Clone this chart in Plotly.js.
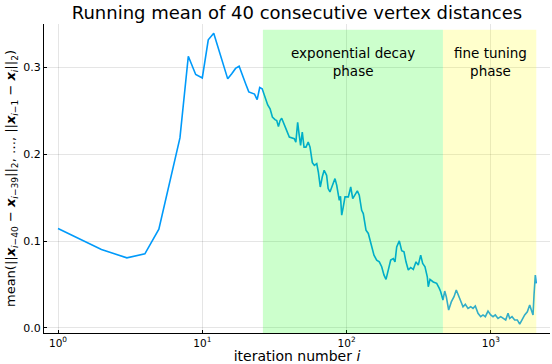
<!DOCTYPE html>
<html>
<head>
<meta charset="utf-8">
<script src="https://cdn.plot.ly/plotly-3.0.1.min.js"></script>
<style>
  html, body { margin: 0; padding: 0; background: #fff; }
  #chart { width: 552px; height: 364px; }
</style>
</head>
<body>
<div id="chart"></div>
<script>
// iteration numbers (log axis) and running mean values
const iters = [
  1, 2, 3, 4, 5, 6, 7, 8, 9, 10, 11, 12, 13, 14, 15, 16, 17, 18, 19, 20,
  21, 22, 23, 24, 25, 26, 27.2, 28.4, 29.5, 30.6, 31.9, 32.8, 33.7, 34.6, 35.5, 37.0,
  38.4, 40.1, 41.6, 43.4, 44.5, 45.8, 46.8, 48.0, 49.3, 50.7, 52.3, 54.2, 55.8, 57.9,
  59.8, 62.1, 63.7, 65.7, 67.8, 69.9, 72.7, 74.5, 76.7, 79.6, 83.1, 85.4, 87.7, 89.0,
  90.7, 92.5, 94.5, 97.5, 102.8, 106.8, 110.3, 114.4, 118.7, 122.4, 127.2, 130.5, 136.3, 141.4,
  149.3, 154.8, 161.6, 168.5, 175.1, 181.7, 187.6, 194.5, 202.1, 210.7, 216.5, 222.4, 231.9, 240.9,
  249.9, 258.0, 267.6, 278.1, 289.8, 302.7, 313.9, 326.2, 336.7, 349.4, 362.4, 368.2, 378.4, 398.7,
  421.1, 439.0, 448.8, 465.6, 478.5, 490.8, 509.8, 531.6, 555.1, 575.7, 598.3, 617.6, 640.9, 664.8,
  694.1, 724.5, 751.7, 779.7, 814.2, 849.9, 881.8, 914.7, 955.0, 996.8, 1034.6, 1072.8, 1120.5, 1169.3,
  1213.5, 1266.4, 1314.4, 1350.0, 1400.8, 1462.1, 1524.4, 1583.6, 1643.3, 1715.1, 1788.3, 1857.7, 1906.2, 1958.9,
  1990.0, 2031.3, 2063.0
];
const meanDist = [
  0.1146, 0.0904, 0.0808, 0.0854, 0.1138, 0.172, 0.219, 0.313, 0.292, 0.288, 0.332, 0.3395, 0.321, 0.304, 0.287, 0.293, 0.299, 0.3015, 0.292, 0.281,
  0.272, 0.2705, 0.2695, 0.263, 0.277, 0.2755, 0.266, 0.257, 0.2525, 0.243, 0.240, 0.239, 0.232, 0.239, 0.2417, 0.2353,
  0.2276, 0.220, 0.2187, 0.218, 0.214, 0.237, 0.2238, 0.2103, 0.2256, 0.2084, 0.2084, 0.2141, 0.2084, 0.1905,
  0.1874, 0.1893, 0.1797, 0.1624, 0.1739, 0.1816, 0.1759, 0.1606, 0.1567, 0.1644, 0.1721, 0.1644, 0.1509, 0.1471,
  0.1517, 0.130, 0.138, 0.151, 0.151, 0.1624, 0.149, 0.153, 0.158, 0.153, 0.1356, 0.1318, 0.1126, 0.1089,
  0.0954, 0.0839, 0.0782, 0.0762, 0.0705, 0.0609, 0.056, 0.0667, 0.0782, 0.080, 0.0762, 0.0934, 0.1003, 0.0889,
  0.0877, 0.0762, 0.0667, 0.0697, 0.0674, 0.0762, 0.0724, 0.0839, 0.0743, 0.0705, 0.059, 0.0475, 0.056, 0.053,
  0.0514, 0.0456, 0.0417, 0.0322, 0.0425, 0.036, 0.0207, 0.030, 0.036, 0.0437, 0.036, 0.030, 0.0245, 0.0272,
  0.0226, 0.0245, 0.0226, 0.0253, 0.0169, 0.013, 0.015, 0.013, 0.0195, 0.015, 0.013, 0.015, 0.011, 0.013,
  0.011, 0.0092, 0.0169, 0.011, 0.013, 0.0092, 0.0092, 0.0043, 0.0092, 0.015, 0.0187, 0.0264, 0.0207, 0.015,
  0.038, 0.061, 0.0514
];

// shaded phases
const phaseNames = ['exponential decay<br>phase', 'fine tuning<br>phase'];
const phaseStart = [26.3, 465];
const phaseEnd = [465, 2063];
const phaseColors = ['rgba(0,255,0,0.2)', 'rgba(255,255,0,0.2)'];
const labelAt = [110, 1000];

const yBottom = -0.0058, yTop = 0.3502, shadeTop = 0.3437;

const trace = {
    x: iters,
    y: meanDist,
    type: 'scatter',
    mode: 'lines',
    line: { color: '#009AFA', width: 1.6 },
    hoverinfo: 'x+y',
    showlegend: false
};

// shapes take raw values on the log axis
const shapes = phaseStart.map((s, k) => ({
    type: 'rect',
    xref: 'x', yref: 'y',
    x0: s, x1: phaseEnd[k],
    y0: yBottom, y1: shadeTop,
    fillcolor: phaseColors[k],
    line: { width: 0 },
    layer: 'above'
}));

const annotations = phaseNames.map((t, k) => ({
    text: t,
    xref: 'x', yref: 'y',
    x: Math.log10(labelAt[k]), y: 0.307,
    showarrow: false,
    font: { size: 13.5 },
    align: 'center'
}));

const gridCol = 'rgba(0,0,0,0.1)';

const layout = {
    width: 552, height: 364,
    margin: { l: 44, r: 2, t: 24, b: 31 },
    paper_bgcolor: '#fff', plot_bgcolor: '#fff',
    font: { family: 'DejaVu Sans', size: 11, color: '#000' },
    title: {
        text: 'Running mean of 40 consecutive vertex distances',
        font: { size: 18 },
        x: 0.538, xanchor: 'center', y: 0.966, yanchor: 'middle'
    },
    xaxis: {
        type: 'log',
        range: [-0.097, 3.4096],
        tickvals: [1, 10, 100, 1000],
        ticktext: ['10<sup>0</sup>', '10<sup>1</sup>', '10<sup>2</sup>', '10<sup>3</sup>'],
        tickfont: { size: 10.5 },
        showgrid: true, gridcolor: gridCol, gridwidth: 1,
        showline: true, linecolor: '#000', linewidth: 1.3,
        ticks: 'inside', ticklen: 3, tickcolor: '#000',
        zeroline: false,
        title: { text: 'iteration number <i>i</i>', font: { size: 14 }, standoff: 7 }
    },
    yaxis: {
        range: [yBottom, yTop],
        tickvals: [0, 0.1, 0.2, 0.3],
        ticktext: ['0.0', '0.1', '0.2', '0.3'],
        showgrid: true, gridcolor: gridCol, gridwidth: 1,
        showline: true, linecolor: '#000', linewidth: 1.3,
        ticks: 'inside', ticklen: 3, tickcolor: '#000',
        zeroline: false,
        title: {
            text: 'mean(||<b><i>x</i></b><sub><i>i</i>−40</sub> − <b><i>x</i></b><sub><i>i</i>−39</sub>||<sub>2</sub>, …, ||<b><i>x</i></b><sub><i>i</i>−1</sub> − <b><i>x</i></b><sub><i>i</i></sub>||<sub>2</sub>)',
            font: { size: 13 }, standoff: 4
        }
    },
    shapes: shapes,
    annotations: annotations
};

Plotly.newPlot('chart', [trace], layout, { displayModeBar: false, responsive: false });
</script>
</body>
</html>
